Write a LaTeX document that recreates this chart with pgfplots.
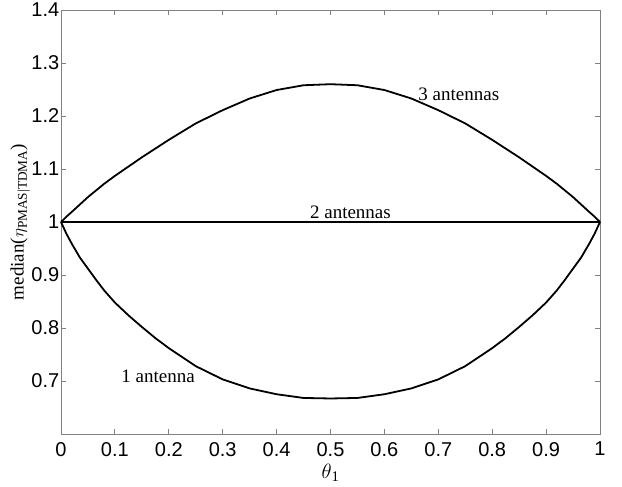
\documentclass[border=0pt]{standalone}
\usepackage{pgfplots}
\pgfplotsset{compat=1.18}
\usepackage{fontspec}
\setmainfont{Liberation Serif}
\newfontfamily\arial{Liberation Sans}
\definecolor{axgray}{RGB}{128,128,128}
\pgfplotstableread{
x y
0.00 1.000
0.01 1.010
0.02 1.019
0.05 1.047
0.08 1.072
0.10 1.087
0.15 1.122
0.20 1.155
0.25 1.186
0.30 1.211
0.35 1.233
0.40 1.249
0.45 1.258
0.50 1.260
0.55 1.258
0.60 1.249
0.65 1.233
0.70 1.211
0.75 1.186
0.80 1.155
0.85 1.122
0.90 1.087
0.92 1.072
0.95 1.047
0.98 1.019
0.99 1.010
1.00 1.000
}\three
\pgfplotstableread{
x y
0.00 1.000
0.01 0.978
0.02 0.959
0.035 0.933
0.05 0.912
0.065 0.891
0.08 0.871
0.10 0.848
0.125 0.824
0.15 0.802
0.175 0.781
0.20 0.762
0.25 0.728
0.30 0.703
0.35 0.686
0.40 0.675
0.45 0.668
0.50 0.667
0.55 0.668
0.60 0.675
0.65 0.686
0.70 0.703
0.75 0.728
0.80 0.762
0.825 0.781
0.85 0.802
0.875 0.824
0.90 0.848
0.92 0.871
0.935 0.891
0.95 0.912
0.965 0.933
0.98 0.959
0.99 0.978
1.00 1.000
}\one
\pgfplotstableread{
x y
0 1
1 1
}\two
\begin{document}
\begin{tikzpicture}
\begin{axis}[
  scale only axis,
  width=539pt, height=424pt,
  xmin=0, xmax=1, ymin=0.6, ymax=1.4,
  xtick={0,0.1,...,1.01},
  ytick={0.7,0.8,...,1.41},
  axis line style={axgray, line width=0.8pt},
  tick style={axgray, line width=0.8pt},
  major tick length=5pt,
  tick align=inside,
  /pgf/number format/assume math mode=true,
  ticklabel style={font=\fontsize{20}{24}\selectfont\arial, text=black},
  yticklabel style={inner sep=1.5pt},
  xticklabel style={inner sep=4pt, yshift=-4pt},
  ylabel={median($\eta$\textsubscript{PMAS|TDMA})},
  xlabel={$\theta$\textsubscript{1}},
  label style={font=\fontsize{19}{23}\selectfont},
  ylabel style={at={(axis description cs:-0.076,0.5)}, anchor=center},
  xlabel style={at={(axis description cs:0.5,-0.092)}, anchor=center, font=\fontsize{21}{25}\selectfont},
  clip=false,
]
\addplot[black, line width=1.8pt, line join=round] table[x=x,y=y] {\three};
\addplot[black, line width=1.8pt] table[x=x,y=y] {\two};
\addplot[black, line width=1.8pt, line join=round] table[x=x,y=y] {\one};
\node[font=\fontsize{19}{23}\selectfont] at (axis cs:0.738,1.2415) {3 antennas};
\node[font=\fontsize{19}{23}\selectfont] at (axis cs:0.537,1.0175) {2 antennas};
\node[font=\fontsize{19}{23}\selectfont] at (axis cs:0.18,0.709) {1 antenna};
\end{axis}
\path (current axis.south west) ++(-61pt,-53pt) rectangle ([xshift=22pt,yshift=10pt]current axis.north east);
\end{tikzpicture}
\end{document}
